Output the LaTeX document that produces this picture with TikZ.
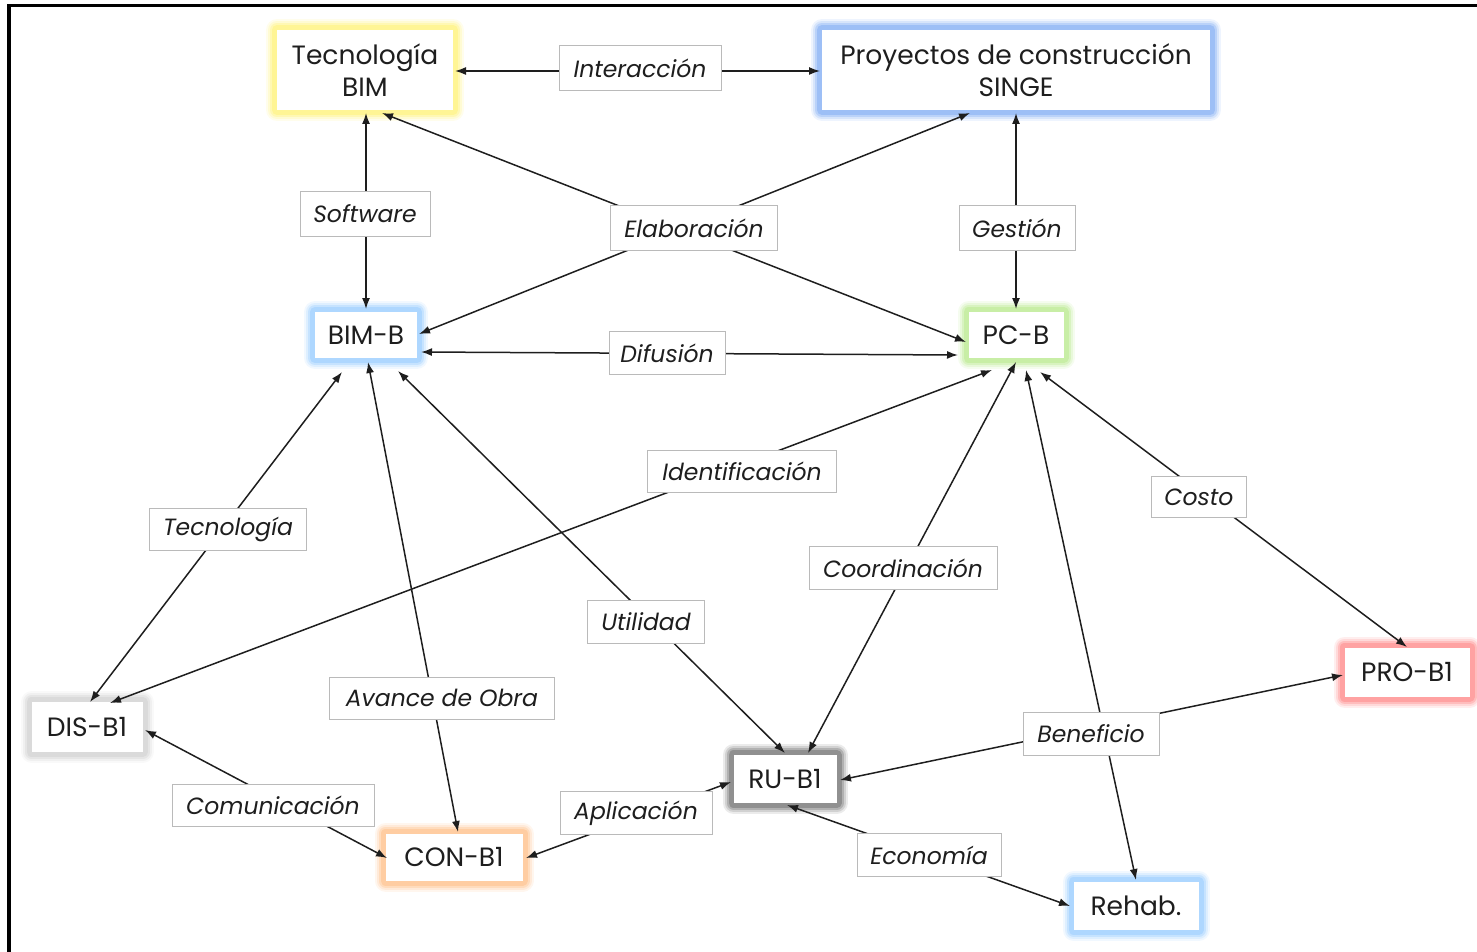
\documentclass[tikz,border=0pt]{standalone}
\usepackage{fontspec}
\setmainfont{Poppins}
\usetikzlibrary{calc,arrows.meta}

\definecolor{ylw}{RGB}{255,243,130}
\definecolor{blu}{RGB}{140,180,245}
\definecolor{lblu}{RGB}{160,208,255}
\definecolor{grn}{RGB}{190,235,150}
\definecolor{lgry}{RGB}{212,212,212}
\definecolor{org}{RGB}{255,196,145}
\definecolor{dgry}{RGB}{125,125,125}
\definecolor{pnk}{RGB}{255,145,145}
\definecolor{ink}{RGB}{30,30,30}

\begin{document}
\begin{tikzpicture}[x=1pt,y=-1pt,
  box/.style={fill=white, inner sep=0pt, align=center,
    font=\fontsize{26.5}{32}\selectfont, text=ink},
  glow/.style={box,
    preaction={draw=#1!15, line width=22pt, line join=round},
    preaction={draw=#1!35, line width=18pt, line join=round},
    preaction={draw=#1!60, line width=14pt, line join=round},
    preaction={draw=#1!85, line width=10pt, line join=round}},
  lbl/.style={draw=black!27, line width=1pt, fill=white, inner sep=0pt,
    font=\fontsize{23.5}{28}\selectfont\itshape, text=ink},
  link/.style={line width=1.5pt, draw=ink,
    {Latex[length=11pt,width=8pt]}-{Latex[length=11pt,width=8pt]}}
]
\useasboundingbox (0,0) rectangle (1477,952);
\clip (0,0) rectangle (1477,952);

% outer frame
\draw[line width=3.5pt] (9,5.5) rectangle (1520,990);

% main concepts
\node[glow=ylw,  minimum width=176pt, minimum height=80pt] (tec)   at (365,70)   {Tecnología\\BIM};
\node[glow=blu,  minimum width=388pt, minimum height=80pt] (singe) at (1016,70)  {Proyectos de construcción\\SINGE};
\node[glow=lblu, minimum width=102pt, minimum height=46pt] (bimb)  at (366,335)  {BIM-B};
\node[glow=grn,  minimum width=95pt,  minimum height=46pt] (pcb)   at (1016,335) {PC-B};
\node[glow=lgry, minimum width=111pt, minimum height=50pt] (dis)   at (87,727)   {DIS-B1};
\node[glow=org,  minimum width=137pt, minimum height=47pt] (con)   at (454,857)  {CON-B1};
\node[glow=dgry, minimum width=103pt, minimum height=48pt] (ru)    at (785,779)  {RU-B1};
\node[glow=pnk,  minimum width=125pt, minimum height=49pt] (pro)   at (1407,672) {PRO-B1};
\node[glow=lblu, minimum width=125pt, minimum height=48pt] (rehab) at (1136,906) {Rehab.};

% relations
\draw[link] ($(tec)+(90,1)$)     -- ($(singe)+(-196,1)$);
\draw[link] ($(tec)+(1,43)$)     -- ($(bimb)+(0,-26)$);
\draw[link] ($(tec)+(17,43)$)    -- ($(pcb)+(-50,7)$);
\draw[link] ($(singe)+(-46,43)$) -- ($(bimb)+(53,-1)$);
\draw[link] ($(singe)+(0,43)$)   -- ($(pcb)+(0,-26)$);
\draw[link] ($(bimb)+(55,17)$)   -- ($(pcb)+(-58,20)$);
\draw[link] ($(pcb)+(-24,35)$)   -- ($(dis)+(23,-24)$);
\draw[link] ($(bimb)+(-24,37)$)  -- ($(dis)+(3,-25)$);
\draw[link] ($(bimb)+(2,27)$)    -- ($(con)+(4,-25)$);
\draw[link] ($(bimb)+(32,36)$)   -- ($(ru)+(0,-26)$);
\draw[link] ($(pcb)+(0,27)$)     -- ($(ru)+(23,-26)$);
\draw[link] ($(pcb)+(10,35)$)    -- ($(rehab)+(0,-26)$);
\draw[link] ($(ru)+(55,1)$)      -- ($(pro)+(-64,3)$);
\draw[link] ($(pcb)+(24,37)$)    -- ($(pro)+(0,-25)$);
\draw[link] ($(dis)+(58,3)$)     -- ($(con)+(-67,1)$);
\draw[link] ($(con)+(72,1)$)     -- ($(ru)+(-54,3)$);
\draw[link] ($(ru)+(2,26)$)      -- ($(rehab)+(-66,0)$);

% relation labels
\node[lbl, minimum width=162pt, minimum height=45pt] (l-int)  at (640,68)   {Interacción};
\node[lbl, minimum width=130pt, minimum height=44pt] (l-soft) at (365,214)  {Software};
\node[lbl, minimum width=167pt, minimum height=44pt] (l-ela)  at (694,228)  {Elaboración};
\node[lbl, minimum width=116pt, minimum height=44pt] (l-ges)  at (1017,228) {Gestión};
\node[lbl, minimum width=116pt, minimum height=43pt] (l-dif)  at (667,353)  {Difusión};
\node[lbl, minimum width=189pt, minimum height=42pt] (l-ide)  at (742,471)  {Identificación};
\node[lbl, minimum width=157pt, minimum height=42pt] (l-tec)  at (228,529)  {Tecnología};
\node[lbl, minimum width=95pt,  minimum height=41pt] (l-cos)  at (1199,497) {Costo};
\node[lbl, minimum width=188pt, minimum height=43pt] (l-coo)  at (903,568)  {Coordinación};
\node[lbl, minimum width=117pt, minimum height=43pt] (l-uti)  at (646,622)  {Utilidad};
\node[lbl, minimum width=225pt, minimum height=42pt] (l-ava)  at (442,698)  {Avance de Obra};
\node[lbl, minimum width=136pt, minimum height=43pt] (l-ben)  at (1091,734) {Beneficio};
\node[lbl, minimum width=202pt, minimum height=42pt] (l-com)  at (273,805)  {Comunicación};
\node[lbl, minimum width=152pt, minimum height=43pt] (l-apl)  at (636,813)  {Aplicación};
\node[lbl, minimum width=144pt, minimum height=43pt] (l-eco)  at (929,855)  {Economía};
\end{tikzpicture}
\end{document}
